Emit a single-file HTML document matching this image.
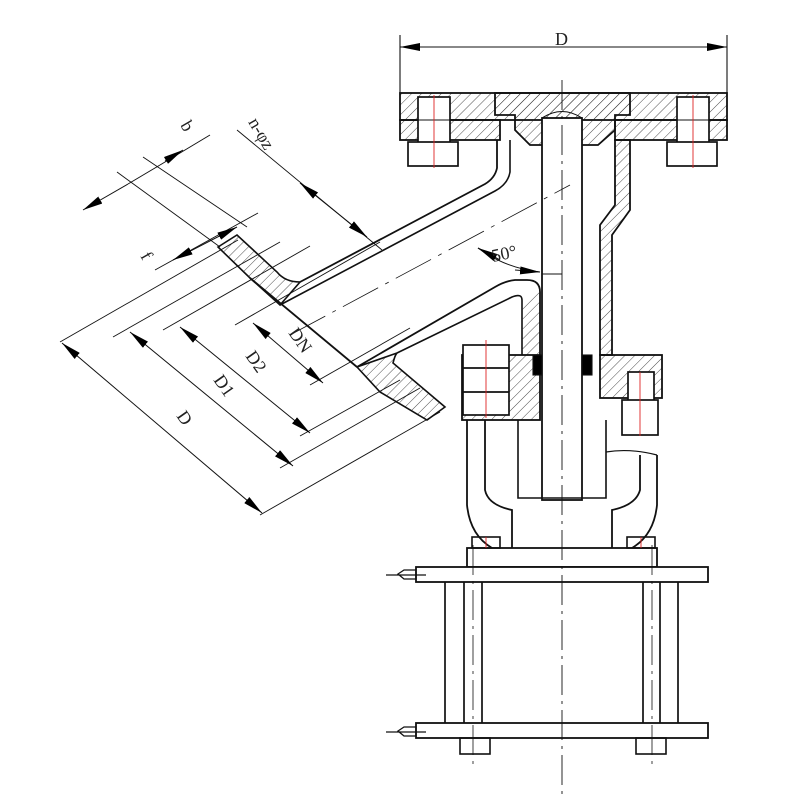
<!DOCTYPE html>
<html><head><meta charset="utf-8"><style>body{margin:0;background:#fff}svg{display:block}</style></head><body>
<svg width="800" height="800" viewBox="0 0 800 800" xmlns="http://www.w3.org/2000/svg" font-family="Liberation Serif, serif">
<defs>
<pattern id="h" width="7" height="7" patternUnits="userSpaceOnUse" patternTransform="rotate(45)"><line x1="0" y1="0" x2="0" y2="7" stroke="#222" stroke-width="0.8"/></pattern>
<marker id="a" markerWidth="20" markerHeight="8" refX="20" refY="4" orient="auto" markerUnits="userSpaceOnUse"><path d="M0,0 L20,4 L0,8z" fill="#000"/></marker>
<marker id="s" markerWidth="20" markerHeight="8" refX="0" refY="4" orient="auto" markerUnits="userSpaceOnUse"><path d="M20,0 L0,4 L20,8z" fill="#000"/></marker>
</defs>
<rect width="800" height="800" fill="#fff"/>
<g stroke="#111" stroke-width="1.1" fill="none">
<!-- top D dimension -->
<line x1="400" y1="35" x2="400" y2="95"/><line x1="727" y1="35" x2="727" y2="95"/>
<line x1="400" y1="47" x2="727" y2="47" marker-start="url(#s)" marker-end="url(#a)"/>
<!-- top flange -->
<rect x="400" y="93" width="327" height="27" fill="url(#h)" stroke-width="1.8"/>
<rect x="400" y="120" width="100" height="20" fill="url(#h)" stroke-width="1.8"/>
<rect x="615" y="120" width="112" height="20" fill="url(#h)" stroke-width="1.8"/>
<path d="M495,93 L630,93 L630,115 L615,115 L615,130 L598,145 L530,145 L515,130 L515,115 L495,115z" fill="url(#h)" stroke-width="1.8"/>
<g fill="#fff" stroke-width="1.7">
<rect x="418" y="97" width="32" height="48"/><rect x="408" y="142" width="50" height="24"/>
<rect x="677" y="97" width="32" height="48"/><rect x="667" y="142" width="50" height="24"/>
</g>
<line x1="418" y1="120" x2="450" y2="120"/><line x1="677" y1="120" x2="709" y2="120"/>
<!-- stem -->
<rect x="542" y="118" width="40" height="382" fill="#fff" stroke-width="1.8"/>
<path d="M542,118 Q562,105 582,118" />
<!-- right body wall -->
<path d="M615,140 L630,140 L630,210 L612,235 L612,355 L600,355 L600,225 L615,205z" fill="url(#h)" stroke-width="1.8"/>
<!-- upper branch wall -->
<path d="M497,140 L497,168 Q495,178 485,184 L300,282" stroke-width="1.8"/>
<path d="M510,140 L510,172 Q508,184 495,191 L280,305" stroke-width="1.6"/>
<!-- lower branch wall -->
<path d="M540,355 L540,292 Q540,280 527,280 L515,280 Q505,281 495,287 L357,367" stroke-width="1.8"/>
<path d="M522,355 L522,300 Q522,293 512,297 L397,353" stroke-width="1.6"/>
<path d="M522,300 L540,292 L540,355 L522,355z" fill="url(#h)" stroke="none"/>
<!-- branch flange -->
<path d="M218,247 L237,235 L277,272 Q285,282 300,282 L280,305 L250,278 L218,247z" fill="url(#h)" stroke-width="1.6"/>
<path d="M250,278 L357,367" stroke-width="1.8"/>
<path d="M357,367 L380,392 L427,420 L445,407 L393,363 Q395,355 397,353 L357,367z" fill="url(#h)" stroke-width="1.6"/>
<!-- lower flanges -->
<rect x="462" y="355" width="78" height="65" fill="url(#h)" stroke-width="1.8"/>
<rect x="600" y="355" width="62" height="43" fill="url(#h)" stroke-width="1.8"/>
<rect x="533" y="355" width="9" height="20" fill="#000"/><rect x="582" y="355" width="10" height="20" fill="#000"/>
<g fill="#fff" stroke-width="1.7">
<rect x="463" y="345" width="46" height="70"/><line x1="463" y1="368" x2="509" y2="368"/><line x1="463" y1="392" x2="509" y2="392"/>
<rect x="628" y="372" width="26" height="30"/><rect x="622" y="400" width="36" height="35"/>
</g>
<!-- yoke -->
<path d="M467,420 L467,505 Q470,535 492,548" stroke-width="1.8"/>
<path d="M485,420 L485,490 Q488,505 512,510 L512,548" stroke-width="1.8"/>
<path d="M518,420 L518,498 L606,498 L606,420" stroke-width="1.6"/>
<path d="M657,455 L657,505 Q654,535 632,548" stroke-width="1.8"/>
<path d="M640,455 L640,490 Q636,505 612,510 L612,548" stroke-width="1.8"/>
<path d="M606,452 Q630,448 657,455" stroke-width="1.2"/>
<!-- base -->
<rect x="467" y="548" width="190" height="19" stroke-width="1.8" fill="#fff"/>
<rect x="472" y="537" width="28" height="11" stroke-width="1.6"/><rect x="627" y="537" width="28" height="11" stroke-width="1.6"/>
<rect x="416" y="567" width="292" height="15" stroke-width="1.8" fill="#fff"/>
<rect x="416" y="723" width="292" height="15" stroke-width="1.8" fill="#fff"/>
<g stroke-width="1.7"><line x1="445" y1="582" x2="445" y2="723"/><line x1="464" y1="582" x2="464" y2="723"/><line x1="482" y1="582" x2="482" y2="723"/>
<line x1="643" y1="582" x2="643" y2="723"/><line x1="660" y1="582" x2="660" y2="723"/><line x1="678" y1="582" x2="678" y2="723"/></g>
<rect x="460" y="738" width="30" height="16" stroke-width="1.6"/><rect x="636" y="738" width="30" height="16" stroke-width="1.6"/>
<path d="M416,570 L404,570 L398,574 L404,579 L416,579z M386,575 L426,575" stroke-width="1.3"/>
<path d="M416,727 L404,727 L398,731 L404,736 L416,736z M386,732 L426,732" stroke-width="1.3"/>
<!-- centre lines -->
<line x1="562" y1="80" x2="562" y2="795" stroke-width="0.9" stroke-dasharray="30,6,3,6"/>
<line x1="473" y1="545" x2="473" y2="770" stroke-width="0.8" stroke-dasharray="30,6,3,6"/>
<line x1="652" y1="545" x2="652" y2="770" stroke-width="0.8" stroke-dasharray="30,6,3,6"/>
<line x1="290" y1="335" x2="570" y2="185" stroke-width="0.8" stroke-dasharray="40,8,4,8"/>
<g stroke="#d22" stroke-width="0.9"><line x1="434" y1="95" x2="434" y2="168"/><line x1="693" y1="95" x2="693" y2="168"/><line x1="486" y1="340" x2="486" y2="418"/><line x1="640" y1="372" x2="640" y2="436"/><line x1="486" y1="537" x2="486" y2="548"/><line x1="641" y1="537" x2="641" y2="548"/></g>
<!-- angle -->
<path d="M478,248 Q505,268 540,272" stroke-width="1"/>
<line x1="500" y1="260" x2="478" y2="248" marker-end="url(#a)"/>
<line x1="515" y1="270" x2="540" y2="272" marker-end="url(#a)"/>
<line x1="542" y1="274" x2="562" y2="274"/>
<!-- extension lines -->
<g stroke-width="0.9">
<line x1="60" y1="342" x2="238" y2="240"/><line x1="260" y1="515" x2="440" y2="412"/>
<line x1="113" y1="337" x2="280" y2="242"/><line x1="280" y1="468" x2="420" y2="388"/>
<line x1="163" y1="330" x2="310" y2="246"/><line x1="300" y1="436" x2="400" y2="380"/>
<line x1="235" y1="325" x2="380" y2="242"/><line x1="310" y1="385" x2="410" y2="328"/>
<line x1="117" y1="172" x2="220" y2="247"/><line x1="143" y1="157" x2="247" y2="227"/>
<line x1="237" y1="130" x2="382" y2="250"/><line x1="155" y1="270" x2="258" y2="213"/>
</g>
<!-- dimension lines -->
<g stroke-width="1">
<line x1="62" y1="343" x2="262" y2="513" marker-start="url(#s)" marker-end="url(#a)"/>
<line x1="130" y1="332" x2="293" y2="466" marker-start="url(#s)" marker-end="url(#a)"/>
<line x1="180" y1="327" x2="310" y2="433" marker-start="url(#s)" marker-end="url(#a)"/>
<line x1="253" y1="323" x2="323" y2="383" marker-start="url(#s)" marker-end="url(#a)"/>
<line x1="83" y1="210" x2="128" y2="184" marker-start="url(#s)"/>
<line x1="128" y1="184" x2="160" y2="165"/>
<line x1="160" y1="165" x2="210" y2="135"/>
<line x1="183" y1="150" x2="165" y2="161" marker-start="url(#s)"/>
<line x1="300" y1="183" x2="367" y2="237" marker-start="url(#s)" marker-end="url(#a)"/>
<line x1="173" y1="260" x2="237" y2="227" marker-start="url(#s)" marker-end="url(#a)"/>
</g>
</g>
<g font-size="18" fill="#222">
<text x="555" y="45">D</text>
<text x="493" y="262" transform="rotate(-12 493 262)">50°</text>
<text x="176" y="416" transform="rotate(55 176 416)">D</text>
<text x="213" y="380" transform="rotate(55 213 380)">D1</text>
<text x="245" y="356" transform="rotate(55 245 356)">D2</text>
<text x="288" y="333" transform="rotate(55 288 333)">DN</text>
<text x="180" y="125" transform="rotate(60 180 125)">b</text>
<text x="248" y="122" transform="rotate(60 248 122)">n-φz</text>
<text x="140" y="256" transform="rotate(60 140 256)">f</text>
</g>
</svg>
</body></html>
